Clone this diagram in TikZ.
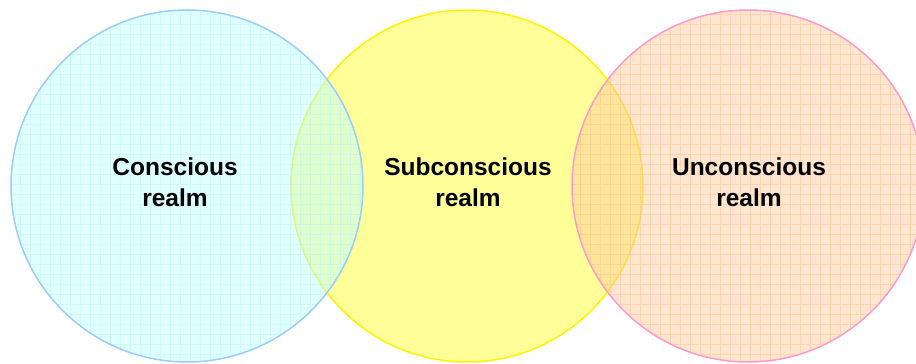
\documentclass[tikz,border=0pt]{standalone}
\usepackage{fontspec}
\setmainfont{Liberation Sans}
\usetikzlibrary{positioning}
\definecolor{subfill}{HTML}{FFFF99}
\definecolor{subline}{HTML}{FFF200}
\definecolor{consfill}{HTML}{C1FFFF}
\definecolor{consgrid}{HTML}{A8E8FF}
\definecolor{consline}{HTML}{99CCFF}
\definecolor{uncfill}{HTML}{FFC799}
\definecolor{uncgrid}{HTML}{FFC48C}
\definecolor{uncline}{HTML}{FF99CC}

\tikzset{
  realm/.style={font=\bfseries\fontsize{24.5}{31}\selectfont,align=center,inner sep=0pt,anchor=north},
  rim/.style={line width=1.5pt}
}

\begin{document}
\begin{tikzpicture}[x=1pt,y=1pt,line cap=round,line join=round]
    \useasboundingbox (0,0) rectangle (916,364);
    \clip (0,0) rectangle (916,364);
    \coordinate (subconscious) at (467,178);
    \coordinate (conscious) at (187,178);
    \coordinate (unconscious) at (748,178);
    \fill[subfill] (subconscious) circle (176);
    \draw[subline,rim] (subconscious) circle (176);
    \fill[consfill,fill opacity=0.5] (conscious) circle (176);
    \begin{scope}
      \clip (conscious) circle (176);
      \draw[consgrid,line width=0.6pt,opacity=0.3,step=10] (10,0) grid (370,364);
    \end{scope}
    \draw[consline,rim] (conscious) circle (176);
    \fill[uncfill,fill opacity=0.45] (unconscious) circle (176);
    \begin{scope}
      \clip (unconscious) circle (176);
      \draw[uncgrid,line width=0.7pt,opacity=0.5,step=10] (570,0) grid (930,364);
    \end{scope}
    \draw[uncline,rim] (unconscious) circle (176);
    \node[realm] (consciouslabel) at (175,206) {Conscious\\realm};
    \node[realm] (subconsciouslabel) at (468,206) {Subconscious\\realm};
    \node[realm] (unconsciouslabel) at (749,206) {Unconscious\\realm};
\end{tikzpicture}
\end{document}
